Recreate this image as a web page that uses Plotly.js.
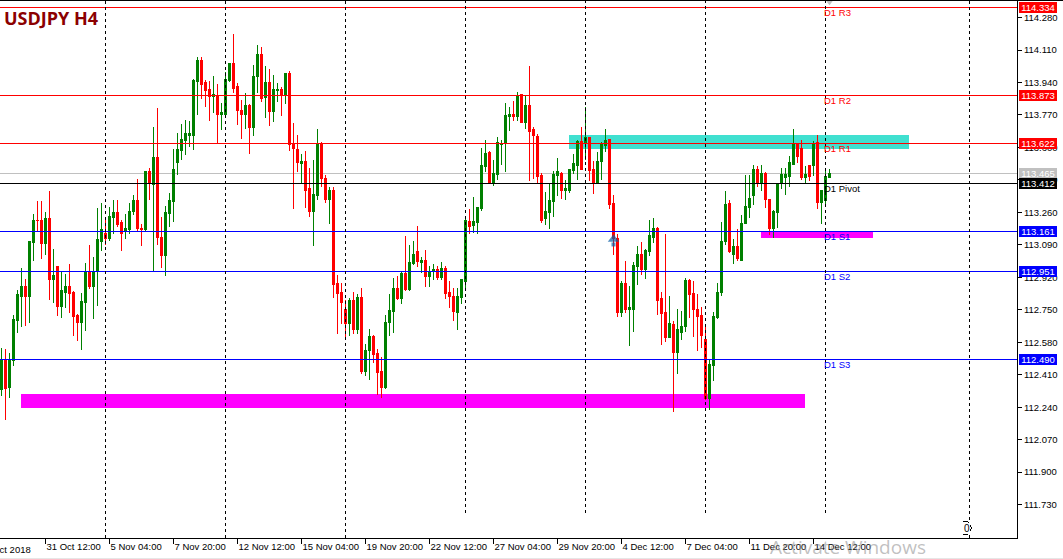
<!DOCTYPE html>
<html>
<head>
<meta charset="utf-8">
<script src="https://cdn.plot.ly/plotly-3.0.1.min.js"></script>
<style>
html,body{margin:0;padding:0;background:#fff;overflow:hidden}
#chart{width:1063px;height:559px}
.shapelayer path,.boxlayer path,.crisp{shape-rendering:crispEdges}
</style>
</head>
<body>
<div id="chart"></div>
<script>
const open = [
112.330,112.482,112.341,112.482,112.692,112.822,112.870,112.817,113.100,113.220,
113.220,113.095,113.226,112.911,112.974,112.765,112.843,112.870,112.838,112.718,
112.681,112.786,112.943,112.870,112.953,113.110,113.147,113.121,113.231,113.257,
113.205,113.158,113.168,113.262,113.320,113.178,113.168,113.472,113.404,113.545,
113.131,113.032,113.252,113.315,113.519,113.582,113.634,113.665,113.665,113.943,
114.053,113.938,113.901,113.869,113.869,113.770,113.770,113.953,114.037,113.917,
113.796,113.770,113.822,113.702,113.969,114.089,113.859,113.938,113.786,113.896,
113.901,113.875,113.985,113.618,113.587,113.514,113.524,113.383,113.267,113.346,
113.613,113.440,113.325,113.377,112.890,112.838,112.749,112.676,112.801,112.645,
112.812,112.425,112.535,112.608,112.519,112.425,112.341,112.681,112.739,112.864,
112.807,112.938,112.854,112.990,113.053,112.995,113.006,112.922,112.955,112.959,
112.917,112.964,112.838,112.822,112.734,112.812,112.896,113.210,113.189,113.205,
113.278,113.498,113.571,113.419,113.456,113.613,113.624,113.760,113.770,113.760,
113.875,113.733,113.822,113.692,113.655,113.451,113.226,113.257,113.315,113.451,
113.466,113.377,113.377,113.477,113.508,113.629,113.624,113.650,113.482,113.419,
113.524,113.608,113.639,113.304,113.121,112.734,112.885,112.754,112.754,112.974,
113.042,112.959,113.053,113.131,113.178,112.807,112.734,112.603,112.671,112.524,
112.629,112.660,112.901,112.833,112.754,112.718,112.597,112.283,112.456,112.707,
112.838,113.105,113.304,113.042,113.079,113.007,113.204,113.288,113.346,113.482,
113.414,113.461,113.330,113.173,113.257,113.409,113.445,113.450,113.513,113.618,
113.592,113.445,113.508,113.503,113.628,113.314,113.320,113.445];
const high = [
112.552,112.545,112.526,112.723,112.854,112.969,112.911,113.110,113.252,113.320,
113.320,113.262,113.372,113.069,112.974,112.953,112.938,112.990,112.849,112.728,
112.838,112.995,113.089,113.027,113.283,113.309,113.236,113.288,113.325,113.325,
113.220,113.252,113.309,113.351,113.435,113.199,113.477,113.493,113.707,113.807,
113.236,113.294,113.362,113.592,113.676,113.723,113.744,113.739,113.958,114.074,
114.074,113.953,113.948,113.974,113.932,113.833,113.995,114.042,114.194,113.938,
113.849,113.885,113.830,114.032,114.136,114.126,114.027,114.011,113.979,113.938,
113.917,113.985,114.000,113.728,113.665,113.566,113.582,113.493,113.534,113.697,
113.629,113.456,113.393,113.393,112.932,112.890,112.801,112.812,112.843,112.833,
112.864,112.571,112.650,112.618,112.545,112.503,112.723,112.833,112.917,112.927,
112.948,113.137,113.090,113.110,113.189,113.027,113.063,112.980,112.990,112.980,
113.001,112.980,112.901,112.864,112.864,112.910,113.241,113.278,113.341,113.288,
113.597,113.639,113.582,113.534,113.655,113.639,113.833,113.812,113.843,113.890,
113.880,113.870,114.027,113.707,113.671,113.466,113.367,113.409,113.477,113.545,
113.472,113.430,113.487,113.566,113.639,113.707,113.812,113.652,113.529,113.576,
113.629,113.697,113.644,113.351,113.147,112.901,113.006,112.875,113.001,113.084,
113.105,113.069,113.220,113.231,113.184,112.843,113.147,112.822,112.692,112.754,
112.744,112.917,112.912,112.901,112.833,112.765,112.676,112.487,112.739,112.890,
113.210,113.372,113.325,113.121,113.173,113.246,113.456,113.456,113.508,113.503,
113.508,113.471,113.330,113.272,113.409,113.492,113.492,113.555,113.697,113.623,
113.639,113.503,113.508,113.634,113.665,113.377,113.492,113.487];
const low = [
112.299,112.173,112.289,112.456,112.629,112.660,112.665,112.681,113.006,113.163,
113.016,113.037,112.802,112.786,112.718,112.707,112.760,112.732,112.613,112.587,
112.540,112.639,112.859,112.702,112.770,113.058,113.089,113.110,113.147,113.184,
113.058,113.121,113.147,113.247,113.158,113.084,113.163,113.325,112.953,113.089,
112.969,112.927,113.184,113.210,113.456,113.534,113.561,113.603,113.587,113.770,
113.854,113.812,113.739,113.781,113.622,113.691,113.765,113.943,113.885,113.718,
113.644,113.697,113.566,113.660,113.885,113.840,113.754,113.712,113.733,113.838,
113.765,113.828,113.582,113.278,113.472,113.414,113.283,113.236,113.084,113.325,
113.393,113.309,113.199,112.812,112.624,112.676,112.592,112.613,112.624,112.624,
112.414,112.404,112.383,112.472,112.304,112.289,112.336,112.613,112.629,112.800,
112.781,112.849,112.849,112.985,112.974,112.943,112.870,112.870,112.906,112.906,
112.906,112.807,112.760,112.692,112.645,112.781,112.849,113.147,113.152,113.147,
113.267,113.472,113.414,113.398,113.430,113.508,113.472,113.686,113.739,113.739,
113.728,113.697,113.425,113.435,113.414,113.205,113.194,113.173,113.236,113.346,
113.330,113.325,113.362,113.461,113.430,113.480,113.534,113.425,113.356,113.409,
113.430,113.576,113.278,113.037,112.713,112.713,112.734,112.561,112.634,112.880,
112.932,112.912,113.032,113.100,112.723,112.566,112.582,112.600,112.215,112.414,
112.592,112.634,112.707,112.608,112.535,112.550,112.280,112.225,112.377,112.700,
112.822,113.090,113.048,112.990,113.006,113.005,113.203,113.231,113.299,113.393,
113.372,113.283,113.142,113.126,113.178,113.382,113.351,113.393,113.513,113.519,
113.430,113.414,113.424,113.450,113.278,113.199,113.288,113.440];
const close = [
112.482,112.336,112.487,112.697,112.828,112.870,112.817,113.105,113.220,113.215,
113.095,113.226,112.911,112.927,112.765,112.849,112.870,112.833,112.713,112.681,
112.791,112.943,112.870,112.953,113.116,113.168,113.121,113.236,113.257,113.199,
113.152,113.178,113.262,113.320,113.173,113.168,113.472,113.409,113.545,113.131,
113.032,113.257,113.320,113.482,113.587,113.639,113.671,113.671,113.948,114.053,
113.927,113.896,113.869,113.875,113.770,113.781,113.958,114.042,113.911,113.791,
113.770,113.822,113.702,113.974,114.089,113.854,113.938,113.786,113.901,113.901,
113.870,113.985,113.613,113.597,113.519,113.524,113.377,113.267,113.351,113.613,
113.435,113.325,113.377,112.880,112.833,112.786,112.676,112.801,112.645,112.812,
112.425,112.535,112.608,112.514,112.419,112.341,112.686,112.744,112.864,112.807,
112.938,112.854,112.995,113.042,113.001,113.006,112.922,112.948,112.959,112.917,
112.964,112.833,112.817,112.739,112.817,112.906,113.215,113.184,113.210,113.283,
113.503,113.566,113.419,113.461,113.624,113.618,113.765,113.770,113.760,113.870,
113.733,113.822,113.686,113.660,113.446,113.220,113.262,113.320,113.456,113.472,
113.377,113.383,113.482,113.514,113.629,113.487,113.650,113.477,113.419,113.529,
113.613,113.634,113.299,113.121,112.734,112.885,112.754,112.760,112.980,113.042,
112.959,113.058,113.137,113.173,112.801,112.728,112.603,112.676,112.524,112.645,
112.665,112.901,112.828,112.749,112.713,112.613,112.283,112.461,112.713,112.843,
113.110,113.299,113.053,113.079,113.016,113.203,113.293,113.335,113.482,113.409,
113.461,113.325,113.173,113.267,113.409,113.456,113.456,113.519,113.618,113.555,
113.445,113.456,113.450,113.622,113.314,113.372,113.450,113.465];

const priceTicks = [114.280,114.110,113.940,113.770,113.600,113.430,113.260,113.090,112.920,112.750,112.580,112.410,112.240,112.070,111.900,111.730];
const timeTickBars = [11,27,43,59,75,91,107,123,139,155,171,187,203];
const timeTickLabels = ["31 Oct 12:00","5 Nov 04:00","7 Nov 20:00","12 Nov 12:00","15 Nov 04:00","19 Nov 20:00","22 Nov 12:00","27 Nov 04:00","29 Nov 20:00","4 Dec 12:00","7 Dec 04:00","11 Dec 20:00","14 Dec 12:00"];

const levelNames  = ["D1 R3","D1 R2","D1 R1","D1 Pivot","D1 S1","D1 S2","D1 S3"];
const levelValues = [114.334,113.873,113.622,113.412,113.161,112.951,112.490];
const levelColors = ["#ff0000","#ff0000","#ff0000","#000000","#0000ff","#0000ff","#0000ff"];
const lastPrice = 113.465;

const separatorsFull  = [26,56,86,242];
const separatorsShort = [116,146,176,206];

const zones = [
  {x0:4.875,  x1:200.875, y0:112.236, y1:112.309, color:"#ff00ff"},
  {x0:189.875,x1:217.875, y0:113.126, y1:113.163, color:"#ff00ff"},
  {x0:141.875,x1:226.875, y0:113.592, y1:113.665, color:"#40e0d0"}
];

const barIndex = open.map((_, i) => i);
const FONT = "Liberation Sans";
const PLOT_W = 1017, PLOT_H = 538;

const traces = [
  {type:"candlestick", x:barIndex, open:open, high:high, low:low, close:close,
   whiskerwidth:0, hoverinfo:"skip", showlegend:false,
   increasing:{line:{color:"#008000",width:1}, fillcolor:"#008000"},
   decreasing:{line:{color:"#ff0000",width:1}, fillcolor:"#ff0000"}},
  {type:"scatter", mode:"markers", x:[153,153], y:[113.119,113.092], hoverinfo:"skip", showlegend:false,
   marker:{symbol:["triangle-up","square"], size:[10,4], color:"#0b5fa5", line:{width:0}}},
  {type:"scatter", mode:"markers", x:[207], y:[114.366], hoverinfo:"skip", showlegend:false,
   marker:{symbol:"triangle-down", size:8, color:"#c0c0c0"}}
];

const shapes = [];
shapes.push({type:"line", layer:"below", xref:"paper", x0:0, x1:1, yref:"y", y0:lastPrice, y1:lastPrice, line:{color:"#c0c0c0",width:1}});
zones.forEach(z => shapes.push({type:"rect", layer:"below", xref:"x", yref:"y", x0:z.x0, x1:z.x1, y0:z.y0, y1:z.y1, fillcolor:z.color, line:{width:0}}));
levelValues.forEach((v,i) => shapes.push({type:"line", layer:"above", xref:"paper", x0:0, x1:1, yref:"y", y0:v, y1:v, line:{color:levelColors[i],width:1}}));
separatorsFull.forEach(b => shapes.push({type:"line", layer:"above", xref:"x", x0:b, x1:b, yref:"paper", y0:0, y1:1, line:{color:"#000",width:1,dash:"3px,3px"}}));
separatorsShort.forEach(b => shapes.push({type:"line", layer:"above", xref:"x", x0:b, x1:b, yref:"paper", y0:25/PLOT_H, y1:1, line:{color:"#000",width:1,dash:"3px,3px"}}));
shapes.push({type:"line", xref:"paper", yref:"paper", x0:0, x1:1063/PLOT_W, y0:1, y1:1, line:{color:"#000",width:1}});
shapes.push({type:"line", xref:"paper", yref:"paper", x0:0, x1:1063/PLOT_W, y0:-20.5/PLOT_H, y1:-20.5/PLOT_H, line:{color:"#e6e6e6",width:1}});
shapes.push({type:"path", xref:"paper", yref:"paper", layer:"above",
  path:"M 0.9469 0.02974 L 0.9518 0.02974 L 0.9553 0.01859 L 0.9518 0.00743 L 0.9469 0.00743", line:{color:"#000",width:1}});

const annotations = [];
const box = (text,y,bg,fg) => annotations.push({xref:"paper", yref:"y", x:1019/PLOT_W, y:y, xanchor:"left", yanchor:"middle",
  text:text, showarrow:false, bgcolor:bg, width:38, height:11, borderpad:0, borderwidth:0, align:"center",
  font:{family:FONT,size:9.5,color:fg}});
levelValues.forEach((v,i) => { if (i !== 3) box(v.toFixed(3), v, levelColors[i], "#ffffff"); });
box(lastPrice.toFixed(3), lastPrice, "#c0c0c0", "#ffffff");
box(levelValues[3].toFixed(3), levelValues[3], "#000000", "#ffffff");
levelNames.forEach((n,i) => annotations.push({xref:"x", yref:"y", x:206, y:levelValues[i], xanchor:"left", yanchor:"middle",
  yshift:-5.5, xshift:-2, text:n, showarrow:false, borderpad:0, borderwidth:0, font:{family:FONT,size:9.5,color:levelColors[i]}}));
annotations.push({xref:"paper", yref:"paper", x:5/PLOT_W, y:1-18.5/PLOT_H, xanchor:"left", yanchor:"middle", xshift:-1, text:"<b>USDJPY H4</b>",
  showarrow:false, borderpad:0, borderwidth:0, font:{family:"Open Sans",size:18,color:"#8b0000"}});
annotations.push({xref:"paper", yref:"paper", x:31/PLOT_W, y:-11.5/PLOT_H, xanchor:"right", yanchor:"middle", text:"29 Oct 2018",
  showarrow:false, borderpad:0, borderwidth:0, font:{family:FONT,size:9.5,color:"#000"}});
annotations.push({xref:"paper", yref:"paper", x:966.5/PLOT_W, y:10/PLOT_H, xanchor:"center", yanchor:"middle", text:"0",
  showarrow:false, borderpad:0, borderwidth:0, bgcolor:"#ffffff", font:{family:FONT,size:10,color:"#000"}});
annotations.push({xref:"paper", yref:"paper", x:770/PLOT_W, y:-8.5/PLOT_H, xanchor:"left", yanchor:"middle", text:"Activate Windows",
  showarrow:false, borderpad:0, borderwidth:0, font:{family:"Open Sans",size:19,color:"rgba(140,140,140,0.55)"}});

const layout = {
  width:1063, height:559,
  margin:{l:0, r:46, t:0, b:21, pad:0},
  paper_bgcolor:"#ffffff", plot_bgcolor:"#ffffff",
  showlegend:false, boxgap:0.5, dragmode:false,
  xaxis:{type:"linear", range:[-0.375,253.875], rangeslider:{visible:false}, showgrid:false, zeroline:false,
    showline:true, linecolor:"#000", linewidth:1,
    tickmode:"array", tickvals:timeTickBars, ticktext:timeTickLabels, ticks:"outside", ticklen:5, tickwidth:1, tickcolor:"#000",
    ticklabelposition:"outside right", tickangle:0,
    tickfont:{family:FONT,size:9.5,color:"#000"}},
  yaxis:{side:"right", range:[111.555,114.372], showgrid:false, zeroline:false,
    showline:true, linecolor:"#000", linewidth:1,
    tickmode:"array", tickvals:priceTicks, ticktext:priceTicks.map(v => v.toFixed(3)), ticks:"outside", ticklen:4, tickwidth:1, tickcolor:"#000",
    tickfont:{family:FONT,size:9.5,color:"#000"}},
  shapes:shapes, annotations:annotations
};
Plotly.newPlot("chart", traces, layout, {displayModeBar:false, staticPlot:true});
</script>
</body>
</html>
